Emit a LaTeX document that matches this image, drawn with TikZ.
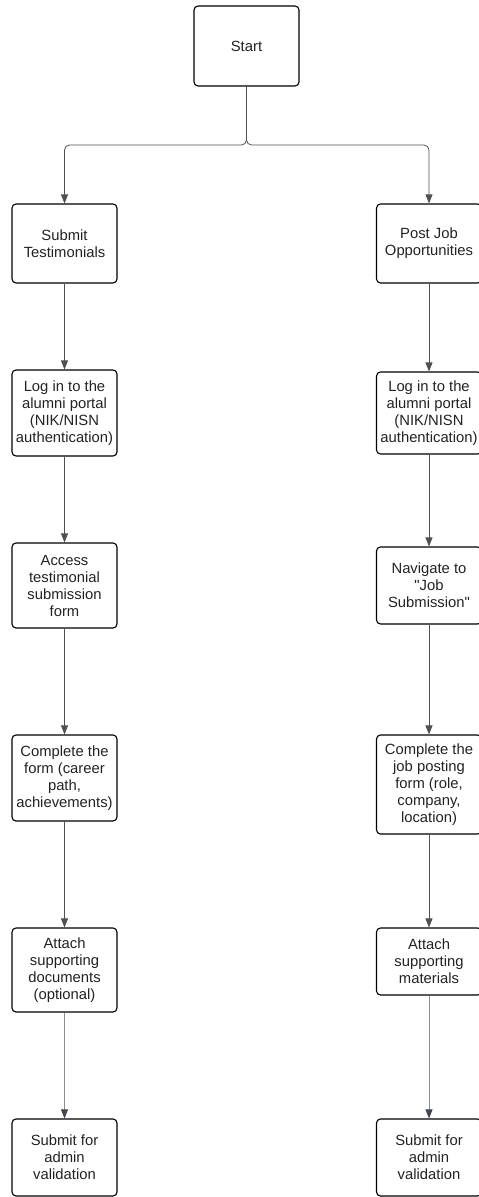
\documentclass[tikz,border=0pt]{standalone}
\usepackage{fontspec}
\setmainfont{Liberation Sans}
\usetikzlibrary{arrows.meta}
\definecolor{linec}{HTML}{505050}
\definecolor{lastc}{HTML}{8A8E92}
\definecolor{tipc}{HTML}{3F4750}
\definecolor{txt}{HTML}{222222}
\begin{document}
\begin{tikzpicture}[x=1pt,y=-1pt,
  box/.style={draw=black,line width=1.1pt,rounded corners=4pt,minimum width=105pt,inner sep=0pt,align=center,font=\fontsize{14.8}{17}\selectfont,text=txt},
  conn/.style={draw=linec,line width=0.8pt,-{Triangle[length=9pt,width=7pt]}},
  lastconn/.style={draw=lastc,line width=0.8pt,-{Triangle[length=9pt,width=7pt,color=tipc,fill=tipc]}}]
\useasboundingbox (0,0) rectangle (479,1197);
\node[box,minimum width=105pt,minimum height=80pt] (start) at (246.5,46) {Start};
\coordinate (br) at (246.5,145);
% left column
\node[box,minimum height=79pt] (l1) at (64.5,243.5) {Submit\\Testimonials};
\node[box,minimum height=86pt] (l2) at (64.5,413) {Log in to the\\alumni portal\\(NIK/NISN\\authentication)};
\node[box,minimum height=85pt] (l3) at (64.5,585.5) {Access\\testimonial\\submission\\form};
\node[box,minimum height=86pt] (l4) at (64.5,778) {Complete the\\form (career\\path,\\achievements)};
\node[box,minimum height=84pt] (l5) at (64.5,970) {Attach\\supporting\\documents\\(optional)};
\node[box,minimum height=77pt] (l6) at (64.5,1157.5) {Submit for\\admin\\validation};
% right column
\node[box,minimum height=79pt] (r1) at (429,243.5) {Post Job\\Opportunities};
\node[box,minimum height=82pt] (r2) at (429,413) {Log in to the\\alumni portal\\(NIK/NISN\\authentication)};
\node[box,minimum height=77pt] (r3) at (429,585.5) {Navigate to\\\textquotedbl Job\\Submission\textquotedbl};
\node[box,minimum height=99pt] (r4) at (429,784.5) {Complete the\\job posting\\form (role,\\company,\\location)};
\node[box,minimum height=67pt] (r5) at (429,961.5) {Attach\\supporting\\materials};
\node[box,minimum height=77pt] (r6) at (429,1157.5) {Submit for\\admin\\validation};
% connectors
\draw[conn,rounded corners=5pt] (start.south) -- (br) -| (l1.north);
\draw[conn,rounded corners=5pt] (start.south) -- (br) -| (r1.north);
\draw[conn] (l1) -- (l2);
\draw[conn] (l2) -- (l3);
\draw[conn] (l3) -- (l4);
\draw[conn] (l4) -- (l5);
\draw[lastconn] (l5) -- (l6);
\draw[conn] (r1) -- (r2);
\draw[conn] (r2) -- (r3);
\draw[conn] (r3) -- (r4);
\draw[conn] (r4) -- (r5);
\draw[lastconn] (r5) -- (r6);
\end{tikzpicture}
\end{document}
